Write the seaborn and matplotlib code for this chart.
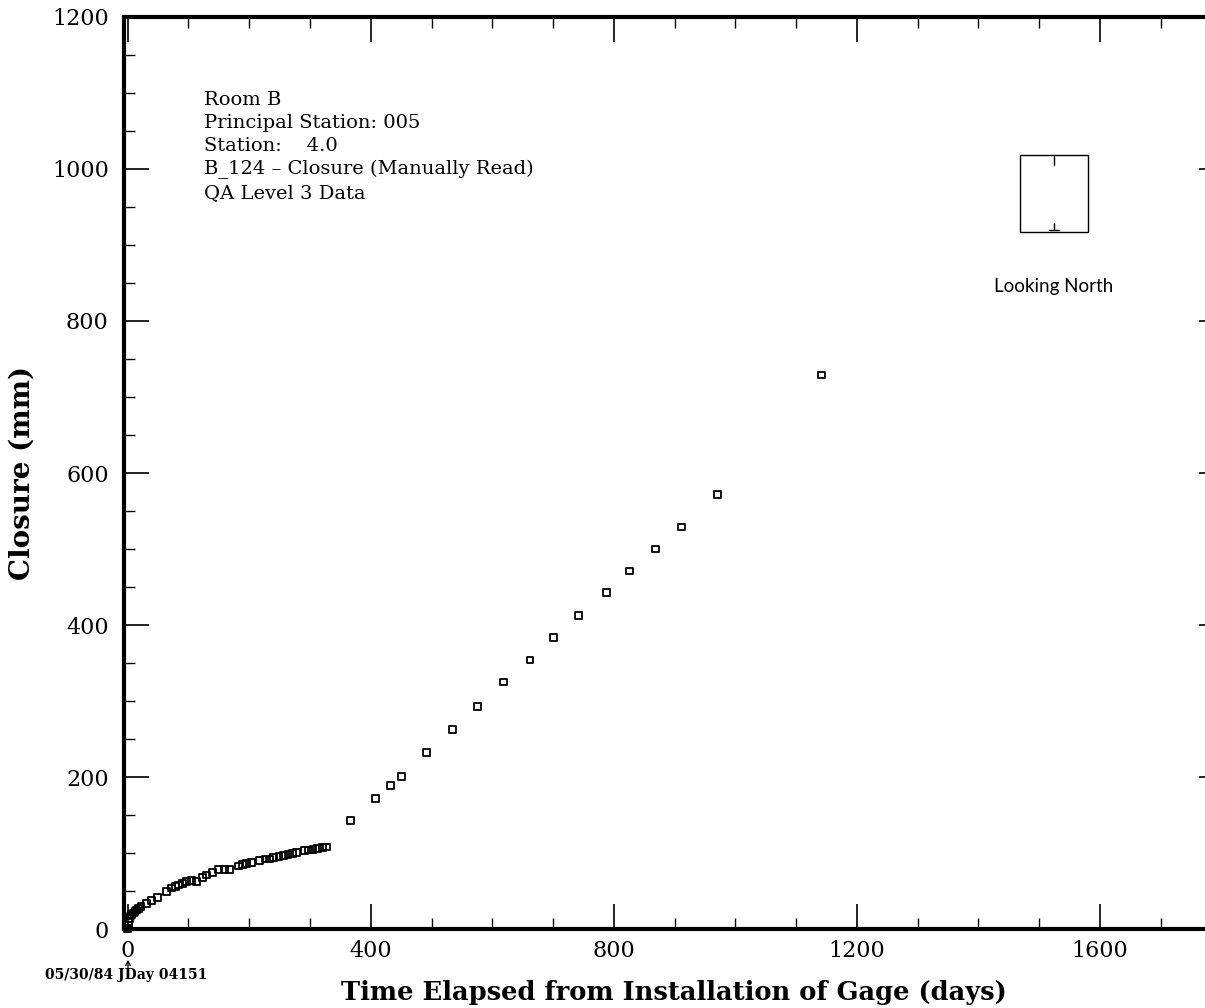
import numpy as np
import pandas as pd
import matplotlib
matplotlib.use('Agg')
import matplotlib.pyplot as plt
import seaborn as sns
from matplotlib.patches import Rectangle, FancyArrowPatch
from matplotlib.ticker import MultipleLocator

# closure readings (days since installation, mm)
days = [0, 1, 2, 3, 5, 7, 9, 12, 15, 18, 22, 31, 39, 49, 64, 72, 79, 84, 90, 97,
        105, 113, 123, 130, 140, 149, 160, 168, 182, 189, 195, 204, 217, 226,
        233, 240, 249, 257, 264, 271, 278, 291, 298, 305, 313, 320, 327,
        367, 408, 433, 451, 492, 535, 576, 619, 662, 701, 742, 788, 826, 869,
        911, 970, 1142]
closure = [0, 5, 10, 14, 17, 19, 21, 23, 25, 27, 30, 34, 37, 41, 49, 54, 56, 58,
           60, 62, 64, 62, 68, 71, 74, 78, 78, 78, 83, 85, 86, 87, 90, 92, 92, 94,
           95, 97, 98, 99, 101, 103, 104, 105, 106, 107, 108,
           143, 172, 189, 201, 232, 262, 293, 325, 354, 384, 413, 443, 471, 500,
           529, 572, 729]

info_lines = ["Room B", "Principal Station: 005", "Station:    4.0",
              "B_124 \u2013 Closure (Manually Read)", "QA Level 3 Data"]

df = pd.DataFrame({'days': days, 'closure': closure})

sns.set_theme(style="ticks")
plt.rcParams['font.family'] = ['DejaVu Serif']
plt.rcParams['text.color'] = 'black'
plt.rcParams['axes.labelcolor'] = 'black'
plt.rcParams['xtick.color'] = 'black'
plt.rcParams['ytick.color'] = 'black'

fig = plt.figure(figsize=(12.05, 10.08), dpi=100)
ax = fig.add_axes([124 / 1205, 79 / 1008, 1100 / 1205, 912 / 1008])

sns.scatterplot(data=df, x='days', y='closure', marker='s', s=24,
                facecolors='none', edgecolor='black', linewidth=1.3, ax=ax,
                clip_on=False, zorder=3)

ax.set_xlim(-6, 1804)
ax.set_ylim(0, 1200)
ax.xaxis.set_major_locator(MultipleLocator(400))
ax.xaxis.set_minor_locator(MultipleLocator(100))
ax.yaxis.set_major_locator(MultipleLocator(200))
ax.yaxis.set_minor_locator(MultipleLocator(50))
ax.tick_params(which='both', direction='in', top=True, right=True, color='black')
ax.tick_params(which='major', length=18, width=1.2, labelsize=16)
ax.tick_params(which='minor', length=8, width=1.0)
ax.tick_params(axis='x', which='major', pad=8)
ax.tick_params(axis='y', which='major', pad=11)
for sp in ax.spines.values():
    sp.set_linewidth(3)
    sp.set_color('black')

ax.set_xlabel('Time Elapsed from Installation of Gage (days)', fontsize=18.5,
              fontweight='bold', labelpad=13)
ax.set_ylabel('Closure (mm)', fontsize=20, fontweight='bold', labelpad=12)

# header block, one line at a time (about 23 px apart)
for i, line in enumerate(info_lines):
    fig.text(204 / 1205, 1 - (100 + 23.2 * i) / 1008, line, ha='left',
             va='center', fontsize=14)

# cross-section sketch
ax.add_patch(Rectangle((0.8145, 0.7643), 0.0619, 0.0844, transform=ax.transAxes,
                       fill=False, edgecolor='black', linewidth=1.0))
ax.plot([0.8455, 0.8455], [0.8487, 0.838], transform=ax.transAxes, color='black', lw=1)
ax.plot([0.8455, 0.8455], [0.7665, 0.7745], transform=ax.transAxes, color='black', lw=1)
ax.plot([0.841, 0.850], [0.7665, 0.7665], transform=ax.transAxes, color='black', lw=1)
ax.text(0.845, 0.704, 'Looking North', transform=ax.transAxes, ha='center',
        va='center', fontsize=13.5, family=['Lato', 'DejaVu Sans'])

# start-date marker under the x origin
fig.add_artist(FancyArrowPatch((128 / 1205, 1 - 972 / 1008), (128 / 1205, 1 - 957 / 1008),
                               transform=fig.transFigure, arrowstyle='->',
                               mutation_scale=8, color='black', lw=0.9))
fig.text(45 / 1205, (1008 - 975) / 1008, '05/30/84 JDay 04151', ha='left',
         va='center', fontsize=10, fontweight='bold')

fig.savefig('out.png', dpi=100)
